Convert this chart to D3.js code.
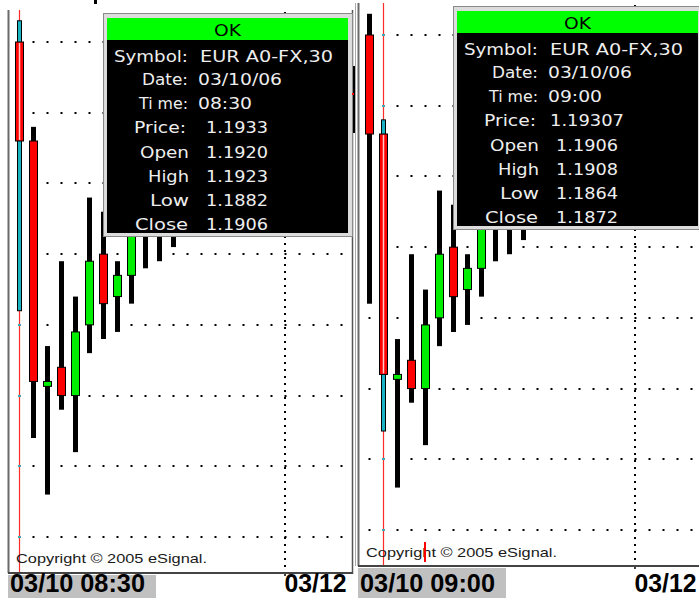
<!DOCTYPE html>
<html><head><meta charset="utf-8">
<script src="https://cdn.jsdelivr.net/npm/d3@7"></script>
<style>html,body{margin:0;padding:0;background:#fff;overflow:hidden;} svg{display:block;}</style>
</head><body>
<svg id="c" width="699" height="598"></svg>
<script>
// ---- data (30-minute EUR bars, 03/10/06) ----
const times  = ["08:30","09:00","09:30","10:00","10:30","11:00","11:30","12:00","12:30","13:00","13:30","14:00"];
const opens  = [1.1920,1.1906,1.18713,1.1874,1.1870,1.1880,1.1890,1.1884,1.1887,1.1895,1.1901,1.1898];
const highs  = [1.1923,1.1908,1.1877,1.1889,1.1884,1.1898,1.1896,1.1889,1.1900,1.1906,1.1905,1.1906];
const lows   = [1.1882,1.1864,1.1856,1.1868,1.1862,1.1876,1.1878,1.1879,1.1883,1.1888,1.1889,1.1891];
const closes = [1.1906,1.1872,1.18720,1.1870,1.1879,1.1889,1.1883,1.1887,1.1893,1.1901,1.1898,1.1903];
const gridPrices = [1.1920,1.1910,1.1900,1.1890,1.1880,1.1870,1.1860,1.1850];
const slotCount = 24;
const dayBreakSlot = 19;
const dayBreakLabel = "03/12";
const cursorIndex = [0, 1];
const cursorLabels = ["03/10 08:30", "03/10 09:00"];
const tipSymbol = "EUR A0-FX,30";
const tipDate = "03/10/06";
const tipTimes = ["08:30", "09:00"];
const tipPrices = ["1.1933", "1.19307"];
const copyright = "Copyright \u00A9 2005 eSignal.";

const bars = times.map((t, i) => ({t, i, o: opens[i], h: highs[i], l: lows[i], c: closes[i]}));

const svg = d3.select("#c");
const x = d3.scaleLinear().domain([0, 1]).range([19.5, 33.5]);
const y = d3.scaleLinear().domain([1.1850, 1.1920]).range([537, 42]);
const fmt = d3.format(".4f");

const panels = [{dx: 0, dy: 0}, {dx: 350, dy: -7}];
const plotTop = 10, plotBottom = 573, plotLeft = 8, plotRight = 353;

panels.forEach((p, pi) => {
  const g = svg.append("g").attr("transform", `translate(${p.dx},${p.dy})`);
  const ci = cursorIndex[pi];

  // borders
  g.append("line").attr("x1", plotLeft + 0.5).attr("x2", plotLeft + 0.5)
    .attr("y1", plotTop).attr("y2", plotBottom).attr("stroke", "#6a6a6a").attr("stroke-width", 2);
  if (pi === 1) {
    g.append("line").attr("x1", plotLeft - 2.5).attr("x2", plotLeft - 2.5)
      .attr("y1", plotTop).attr("y2", plotBottom).attr("stroke", "#aaa").attr("stroke-width", 1);
  }
  g.append("line").attr("x1", plotRight - 0.5).attr("x2", plotRight - 0.5)
    .attr("y1", plotTop).attr("y2", plotBottom + 1).attr("stroke", "#555").attr("stroke-width", 1.5);

  // horizontal dotted grid: one dot per bar slot
  const slots = d3.range(slotCount);
  gridPrices.forEach(gp => {
    g.selectAll(null).data(slots).enter().append("rect")
      .attr("x", d => x(d) - 1).attr("y", Math.round(y(gp)) - 1)
      .attr("width", 2).attr("height", 2).attr("fill", "#000");
  });
  // day-break vertical dotted line
  const dbx = x(dayBreakSlot) - 0.5;
  g.selectAll(null).data(d3.range(plotTop + 2, plotBottom, 7)).enter().append("rect")
    .attr("x", dbx - 1).attr("y", d => d).attr("width", 2).attr("height", 2).attr("fill", "#000");
  g.append("line").attr("x1", dbx).attr("x2", dbx).attr("y1", plotBottom).attr("y2", plotBottom + 3)
    .attr("stroke", "#000").attr("stroke-width", 1.5);

  // cursor line
  const cx = x(ci);
  g.append("line").attr("x1", cx).attr("x2", cx).attr("y1", plotTop).attr("y2", plotBottom)
    .attr("stroke", "#ff2a2a").attr("stroke-width", 1.2);
  gridPrices.forEach(gp => {
    g.append("rect").attr("x", cx - 1).attr("y", Math.round(y(gp)) - 1).attr("width", 2).attr("height", 2)
      .attr("fill", "#19c0d0");
  });

  // candles
  const normal = bars.filter(b => b.i !== ci);
  const cg = g.append("g");
  cg.selectAll(".wick").data(normal).enter().append("rect")
    .attr("x", d => x(d.i) - 2.5).attr("width", 5)
    .attr("y", d => y(d.h)).attr("height", d => y(d.l) - y(d.h)).attr("fill", "#000");
  cg.selectAll(".body").data(normal).enter().append("rect")
    .attr("x", d => x(d.i) - 4).attr("width", 8)
    .attr("y", d => y(Math.max(d.o, d.c))).attr("height", d => Math.max(2, y(Math.min(d.o, d.c)) - y(Math.max(d.o, d.c))))
    .attr("fill", d => d.c >= d.o ? "#00ee00" : "#ff0000").attr("stroke", "#000").attr("stroke-width", 1);

  // highlighted candle under cursor
  const hb = bars[ci];
  g.append("rect").attr("x", x(ci) - 2).attr("width", 4)
    .attr("y", y(hb.h)).attr("height", y(hb.l) - y(hb.h))
    .attr("fill", "#1ab3c4").attr("stroke", "#000").attr("stroke-width", 1);
  g.append("rect").attr("x", x(ci) - 4).attr("width", 8)
    .attr("y", y(Math.max(hb.o, hb.c))).attr("height", y(Math.min(hb.o, hb.c)) - y(Math.max(hb.o, hb.c)))
    .attr("fill", hb.c >= hb.o ? "#00ee00" : "#ff0000").attr("stroke", "#000").attr("stroke-width", 1);
  g.append("line").attr("x1", cx).attr("x2", cx)
    .attr("y1", y(Math.max(hb.o, hb.c)) + 1).attr("y2", y(Math.min(hb.o, hb.c)) - 1)
    .attr("stroke", "#ffc8c8").attr("stroke-width", 1.5);

  // copyright
  g.append("text").attr("x", 16).attr("y", 563 - (pi ? -1 : 0))
    .attr("font-family", "Liberation Sans, Arial, sans-serif").attr("font-size", 13)
    .attr("fill", "#1a1a1a").attr("textLength", 191).attr("lengthAdjust", "spacingAndGlyphs")
    .text(copyright);

  // bottom axis
  const labY = pi ? 599 : 592;
  g.append("line").attr("x1", plotLeft).attr("x2", plotRight).attr("y1", plotBottom).attr("y2", plotBottom)
    .attr("stroke", "#444").attr("stroke-width", 2);
  g.append("rect").attr("x", plotLeft).attr("y", plotBottom + 2).attr("width", 148).attr("height", 40)
    .attr("fill", "#c0c0c0");
  g.append("text").attr("x", 10).attr("y", labY)
    .attr("font-family", "Liberation Sans, Arial, sans-serif").attr("font-weight", "bold").attr("font-size", 26)
    .attr("fill", "#000").attr("textLength", 135).attr("lengthAdjust", "spacingAndGlyphs")
    .text(cursorLabels[pi]);
  g.append("text").attr("x", x(dayBreakSlot) - 1).attr("y", labY)
    .attr("font-family", "Liberation Sans, Arial, sans-serif").attr("font-weight", "bold").attr("font-size", 26)
    .attr("fill", "#000").attr("textLength", 62).attr("lengthAdjust", "spacingAndGlyphs")
    .text(dayBreakLabel);

  // tooltip
  const tg = g.append("g");
  tg.append("rect").attr("x", 103.5).attr("y", 13.5).attr("width", 249).attr("height", 223)
    .attr("fill", "#dcdcdc").attr("stroke", "#8a8a8a");
  tg.append("rect").attr("x", 107).attr("y", 18).attr("width", 241).attr("height", 22).attr("fill", "#00ff00");
  tg.append("rect").attr("x", 107).attr("y", 40).attr("width", 241).attr("height", 193).attr("fill", "#000");
  const tf = "DejaVu Sans, Verdana, sans-serif";
  tg.append("text").attr("x", 214).attr("y", 36).attr("font-family", tf).attr("font-size", 16)
    .attr("fill", "#000").attr("textLength", 27).attr("lengthAdjust", "spacingAndGlyphs").text("OK");
  const b = bars[ci];
  const rows = [
    {lab: "Symbol:", lx: 114, lw: 74, val: tipSymbol, vx: 200, vw: 133, by: 61.5},
    {lab: "Date:", lx: 142, lw: 46, val: tipDate, vx: 198, vw: 84, by: 85},
    {lab: "Ti me:", lx: 139, lw: 49, val: tipTimes[pi], vx: 198, vw: 54, by: 109},
    {lab: "Price:", lx: 134, lw: 52, val: tipPrices[pi], vx: pi ? 200 : 206, vw: pi ? 74 : 62, by: 133},
    {lab: "Open", lx: 140, lw: 49, val: fmt(b.o), vx: 206, vw: 62, by: 157.5},
    {lab: "High", lx: 148, lw: 41, val: fmt(b.h), vx: 206, vw: 62, by: 181.5},
    {lab: "Low", lx: 150, lw: 39, val: fmt(b.l), vx: 206, vw: 62, by: 206},
    {lab: "Close", lx: 135, lw: 53, val: fmt(b.c), vx: 206, vw: 62, by: 230}
  ];
  rows.forEach(r => {
    tg.append("text").attr("x", r.lx).attr("y", r.by).attr("font-family", tf).attr("font-size", 16)
      .attr("fill", "#eee").attr("textLength", r.lw).attr("lengthAdjust", "spacingAndGlyphs").text(r.lab);
    tg.append("text").attr("x", r.vx).attr("y", r.by).attr("font-family", tf).attr("font-size", 16)
      .attr("fill", "#eee").attr("textLength", r.vw).attr("lengthAdjust", "spacingAndGlyphs").text(r.val);
  });
});

// small marks on the screen capture
svg.append("rect").attr("x", 353).attr("y", 66).attr("width", 2).attr("height", 67).attr("fill", "#000");
svg.append("rect").attr("x", 352).attr("y", 93).attr("width", 2).attr("height", 2).attr("fill", "#ff0000");
svg.append("rect").attr("x", 94).attr("y", 0).attr("width", 3).attr("height", 4).attr("fill", "#000");
svg.append("rect").attr("x", 424).attr("y", 542).attr("width", 2).attr("height", 20).attr("fill", "#ff0000");
</script>
</body></html>
